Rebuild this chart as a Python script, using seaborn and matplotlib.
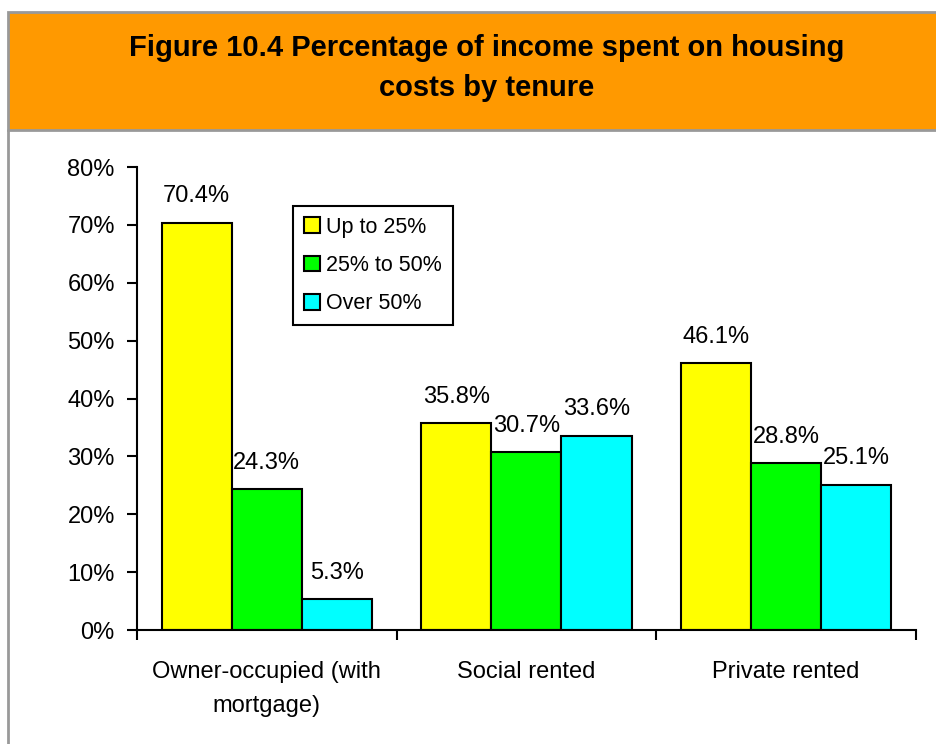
import pandas as pd
import matplotlib.pyplot as plt
import matplotlib.patches as mpatches
import seaborn as sns

# dati
tenures = ["Owner-occupied (with\nmortgage)", "Social rented", "Private rented"]
bands = ["Up to 25%", "25% to 50%", "Over 50%"]
up_to_25 = [70.4, 35.8, 46.1]
from_25_to_50 = [24.3, 30.7, 28.8]
over_50 = [5.3, 33.6, 25.1]
colors = ["#FFFF00", "#00FF00", "#00FFFF"]

df = pd.DataFrame({
    "tenure": tenures * 3,
    "band": [b for b in bands for _ in tenures],
    "value": up_to_25 + from_25_to_50 + over_50,
})
df["share"] = df["value"] / 100

sns.set_style("white")
plt.rcParams["font.family"] = ["Liberation Sans", "DejaVu Sans"]
plt.rcParams["text.color"] = "black"
plt.rcParams["xtick.color"] = "black"
plt.rcParams["ytick.color"] = "black"

fig = plt.figure(figsize=(9.36, 7.44), dpi=100)

# banda arancione del titolo
fig.patches.append(mpatches.Rectangle((0.0085, 0.8253), 1.0, 0.1586, transform=fig.transFigure,
                                      facecolor="#FF9900", edgecolor="#999999", linewidth=2))
fig.lines.append(plt.Line2D([0.0085, 0.0085], [0, 0.8253], transform=fig.transFigure,
                            color="#999999", linewidth=2))
fig.text(0.52, 0.9086, "Figure 10.4 Percentage of income spent on housing\ncosts by tenure",
         ha="center", va="center", fontsize=21, fontweight="bold", linespacing=1.55)

ax = fig.add_axes([0.1464, 0.1532, 0.832, 0.6223])
sns.barplot(data=df, x="tenure", y="share", hue="band", palette=colors,
            edgecolor="black", linewidth=1.5, width=0.81, saturation=1, ax=ax)

for cont in ax.containers:
    ax.bar_label(cont, labels=[f"{b.get_height() * 100:.1f}%" for b in cont],
                 padding=11, fontsize=17)

ax.set_ylim(0, 0.8)
ax.set_xlim(-0.5, 2.5)
ax.set_yticks([i / 10 for i in range(9)])
ax.set_yticklabels([f"{i * 10}%" for i in range(9)], fontsize=17)
ax.set_xticks([0, 1, 2])
ax.set_xticklabels(tenures, fontsize=17, linespacing=1.75)
ax.set_xticks([-0.5, 0.5, 1.5, 2.5], minor=True)
ax.tick_params(axis="x", which="major", length=0, pad=22)
ax.tick_params(axis="x", which="minor", length=7, width=1.5, direction="out", bottom=True)
ax.tick_params(axis="y", length=7, width=1.5, direction="out", left=True, pad=9)
ax.set_xlabel("")
ax.set_ylabel("")
sns.despine(ax=ax)
for s in ["left", "bottom"]:
    ax.spines[s].set_linewidth(1.5)
    ax.spines[s].set_color("black")

leg = ax.legend(loc="upper left", bbox_to_anchor=(0.2, 0.916), fontsize=15.5,
                frameon=True, fancybox=False, edgecolor="black", framealpha=1,
                handlelength=0.75, handleheight=0.75, handletextpad=0.3,
                borderpad=0.5, labelspacing=0.8, borderaxespad=0)
leg.get_frame().set_linewidth(1.5)

plt.savefig("out.png", dpi=100)
